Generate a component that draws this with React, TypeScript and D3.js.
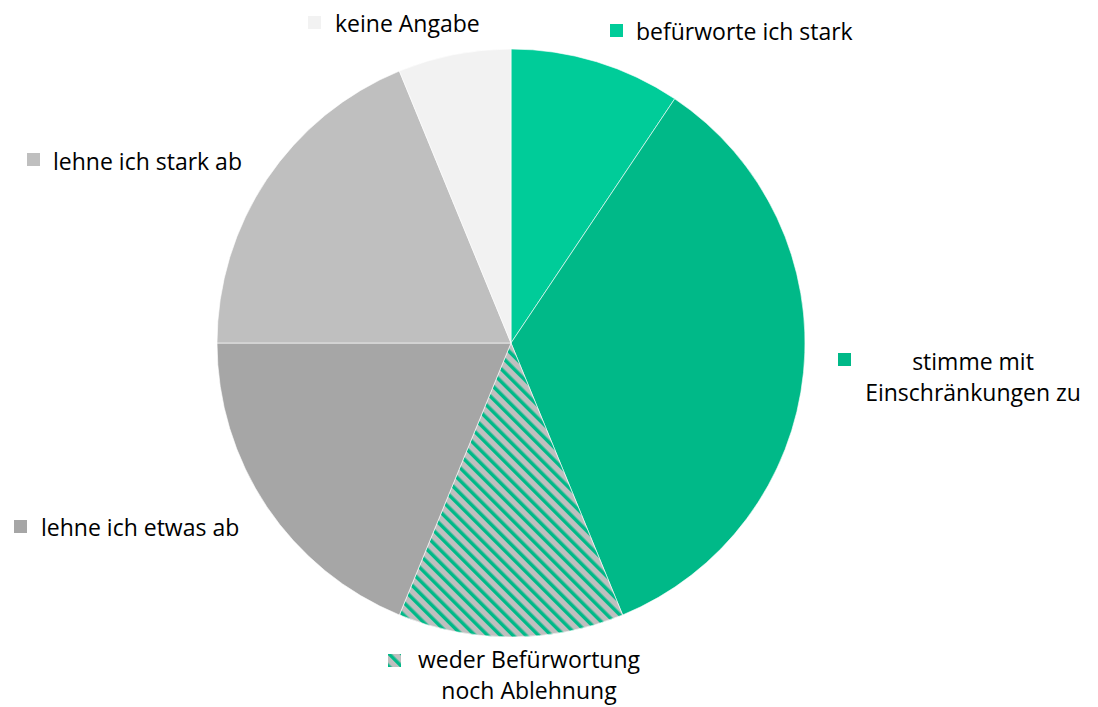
import * as d3 from 'd3';

const labels = [
  'befürworte ich stark',
  'stimme mit Einschränkungen zu',
  'weder Befürwortung noch Ablehnung',
  'lehne ich etwas ab',
  'lehne ich stark ab',
  'keine Angabe',
];
const values = [9.4, 34.4, 12.4, 18.8, 18.8, 6.2];
const colors = ['#00cc99', '#00b988', 'url(#hatch)', '#a6a6a6', '#bfbfbf', '#f2f2f2'];

// legend placement: marker box top-left, text lines with anchor
const legend = [
  { mx: 610, my: 24, lines: ['befürworte ich stark'], tx: 636, ty: 40, anchor: 'start' },
  { mx: 838, my: 353, lines: ['stimme mit', 'Einschränkungen zu'], tx: 973, ty: 370, anchor: 'middle' },
  { mx: 388, my: 654, lines: ['weder Befürwortung', 'noch Ablehnung'], tx: 529, ty: 668, anchor: 'middle' },
  { mx: 14, my: 520, lines: ['lehne ich etwas ab'], tx: 41, ty: 536, anchor: 'start' },
  { mx: 27, my: 153, lines: ['lehne ich stark ab'], tx: 53, ty: 170, anchor: 'start' },
  { mx: 308, my: 16, lines: ['keine Angabe'], tx: 335, ty: 32, anchor: 'start' },
];

const W = 1098;
const H = 707;
const cx = 511;
const cy = 343;
const radius = 294;

export default function App() {
  const pie = d3.pie<number>().sort(null).value((d) => d);
  const arcs = pie(values);
  const arc = d3.arc<d3.PieArcDatum<number>>().innerRadius(0).outerRadius(radius);

  return (
    <svg
      width={W}
      height={H}
      style={{ position: 'absolute', left: 0, top: 0 }}
      fontFamily="'Open Sans', Lato, sans-serif"
    >
      <defs>
        <pattern id="hatch" width="9" height="9" patternUnits="userSpaceOnUse" patternTransform="rotate(-45)">
          <rect width="9" height="9" fill="#bfbfbf" />
          <rect width="3.5" height="9" fill="#00b988" />
        </pattern>
      </defs>
      <rect width={W} height={H} fill="#fff" />
      <g transform={`translate(${cx},${cy})`}>
        {arcs.map((a, i) => (
          <path key={labels[i]} d={arc(a) || ''} fill={colors[i]} stroke="#fff" strokeOpacity={0.6} strokeWidth={1} />
        ))}
      </g>
      {legend.map((l, i) => (
        <g key={labels[i]}>
          <rect x={l.mx} y={l.my} width={13} height={13} fill={colors[i]} />
          <text x={l.tx} y={l.ty} textAnchor={l.anchor} fontSize={23} fill="#000">
            {l.lines.map((s, j) => (
              <tspan key={s} x={l.tx} dy={j === 0 ? 0 : 31}>
                {s}
              </tspan>
            ))}
          </text>
        </g>
      ))}
    </svg>
  );
}
